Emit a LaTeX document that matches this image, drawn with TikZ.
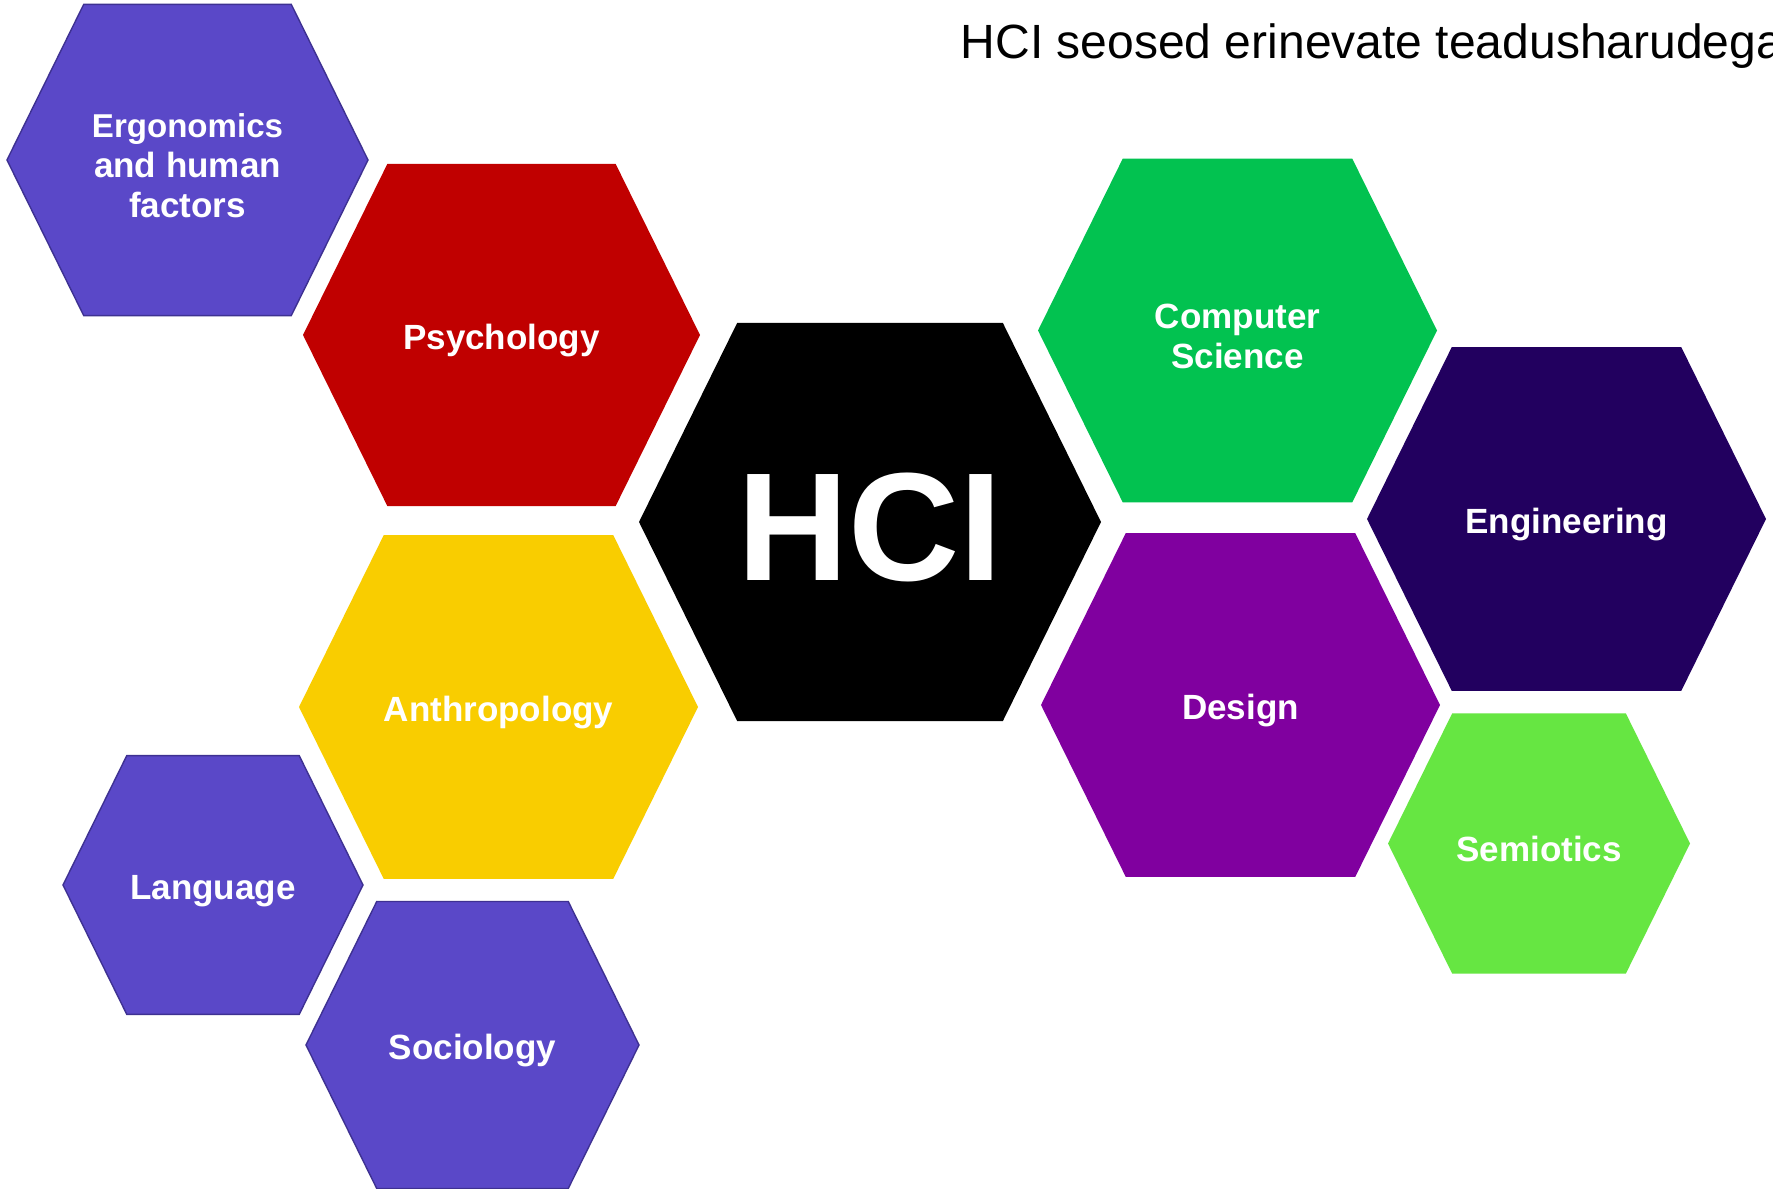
\documentclass[tikz,border=0pt]{standalone}
\usepackage{fontspec}
\setmainfont{Liberation Sans}
\usetikzlibrary{positioning}
\definecolor{hexviolet}{HTML}{5A48C8}
\definecolor{hexvioletline}{HTML}{3E3192}
\definecolor{hexred}{HTML}{C00000}
\definecolor{hexyellow}{HTML}{F9CD00}
\definecolor{hexgreen}{HTML}{02C250}
\definecolor{hexnavy}{HTML}{22005F}
\definecolor{hexpurple}{HTML}{80009F}
\definecolor{hexlime}{HTML}{66E642}
% one cell: [label options]{name}{centre}{half width}{fill options}{label}
\newcommand{\hexcell}[6][]{%
  \begin{scope}[shift={(#3)}, scale=#4]
    \fill[#5] (-1,0) -- (-0.575,-0.862) -- (0.575,-0.862) -- (1,0)
      -- (0.575,0.862) -- (-0.575,0.862) -- cycle;
  \end{scope}
  \node[lab, #1] (#2) at (#3) {#6};}

\begin{document}
\begin{tikzpicture}[
    x=0.01cm, y=-0.01cm,
    every node/.style={align=center},
    lab/.style={text=white, font=\bfseries\fontsize{9.96}{11.4}\selectfont,
                inner sep=0pt, yshift=-1.7pt},
    edged/.style={fill=hexviolet, draw=hexvioletline, line width=0.4pt},
    heading/.style={font=\fontsize{13.66}{16}\selectfont, inner sep=0pt, anchor=base west}]
  \clip (0,0) rectangle (1773,1189);
  \fill[white] (0,0) rectangle (1773,1189);
  % left column
  \hexcell{ergo}{187.5,160}{180.5}{edged}{\fontsize{9.4}{11.95}\selectfont Ergonomics\\and human\\factors}
  \hexcell{psych}{501.5,335}{198.5}{fill=hexred}{Psychology}
  \hexcell{anthro}{498.5,707}{199.5}{fill=hexyellow}{Anthropology}
  \hexcell{lang}{213,885}{150}{edged}{Language}
  \hexcell{socio}{472.5,1045}{166.5}{edged}{Sociology}
  % centre
  \hexcell[font=\bfseries\fontsize{43.8}{50}\selectfont, yshift=0pt]{hci}{870,522}{231}{fill=black}{HCI}
  % right column
  \hexcell{comp}{1237.5,330.5}{199.5}{fill=hexgreen}{Computer\\Science}
  \hexcell{eng}{1566.5,519}{199.5}{fill=hexnavy}{Engineering}
  \hexcell{design}{1240.5,705}{199.5}{fill=hexpurple}{Design}
  \hexcell{semio}{1539,843.5}{151}{fill=hexlime}{Semiotics}
  \node[heading] (title) at (960,59) {HCI seosed erinevate teadusharudega};
\end{tikzpicture}
\end{document}
